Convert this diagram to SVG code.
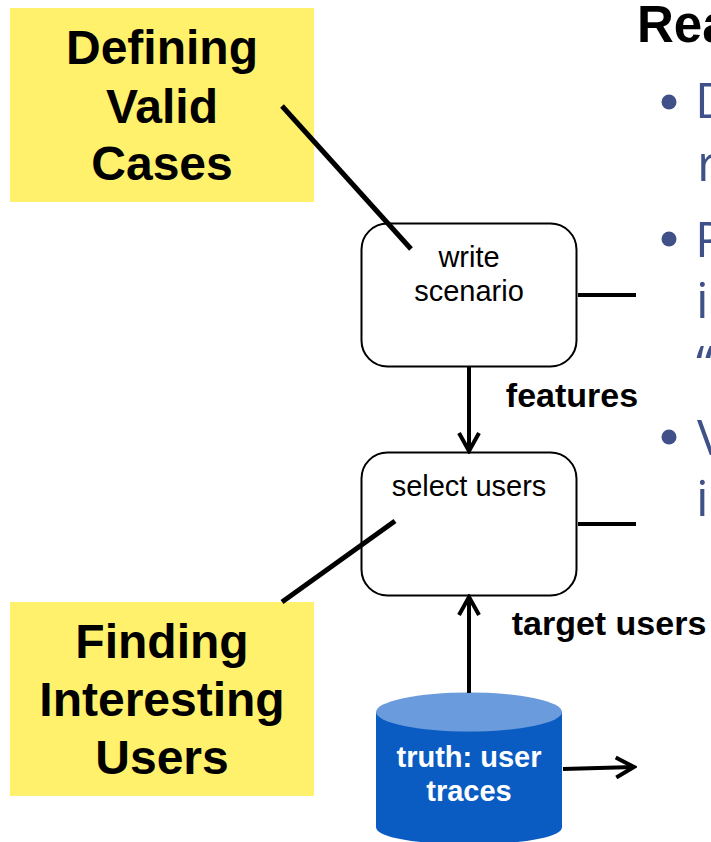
<svg xmlns="http://www.w3.org/2000/svg" width="711" height="842" viewBox="0 0 711 842">
<defs>
<marker id="arrow" viewBox="0 0 24 24" refX="21" refY="12" markerWidth="24" markerHeight="24" markerUnits="userSpaceOnUse" orient="auto"><path d="M3 2 L21 12 L3 22" fill="none" stroke="#000" stroke-width="4"/></marker>
</defs>
<style>
text{font-family:"Liberation Sans",Arial,sans-serif;text-anchor:middle}
.note{fill:#fff16b}
.nt{font-size:48px;font-weight:bold;fill:#000}
.box{fill:#fff;stroke:#000;stroke-width:2}
.bt{font-size:29px;fill:#000}
.lbl{font-size:34px;font-weight:bold;fill:#000}
.side{font-family:"Open Sans","Noto Sans",sans-serif;font-size:50px;fill:#3f5188;text-anchor:start}
.dot{fill:#3f5188}
.con{fill:none;stroke:#000;stroke-width:4}
.diag{fill:none;stroke:#000;stroke-width:5}
</style>
<g id="panel-text">
<text x="637" y="42" style="font-size:51px;font-weight:bold;text-anchor:start">Rea</text>
<circle class="dot" cx="669" cy="102" r="7.500"/>
<text class="side" x="695" y="118">D</text>
<text class="side" x="697" y="181">r</text>
<circle class="dot" cx="669" cy="239" r="7.500"/>
<text class="side" x="695" y="257">P</text>
<text class="side" x="696" y="318">i</text>
<text class="side" x="696" y="381">“</text>
<circle class="dot" cx="669" cy="437" r="7.500"/>
<text class="side" x="697" y="455">V</text>
<text class="side" x="696" y="516">i</text>
</g>
<g id="note-valid">
<rect class="note" x="10" y="8" width="304" height="194"/>
<text class="nt" x="162" y="64">Defining</text>
<text class="nt" x="162" y="122.500">Valid</text>
<text class="nt" x="162" y="180">Cases</text>
</g>
<g id="note-users">
<rect class="note" x="10" y="602" width="304" height="194"/>
<text class="nt" x="162" y="658">Finding</text>
<text class="nt" x="162" y="716">Interesting</text>
<text class="nt" x="162" y="774">Users</text>
</g>
<g id="node-scenario">
<rect class="box" x="361.500" y="223.500" width="215" height="143" rx="26"/>
<text class="bt" x="469" y="267">write</text>
<text class="bt" x="469" y="301">scenario</text>
</g>
<g id="node-select">
<rect class="box" x="361.500" y="452.500" width="215" height="143" rx="26"/>
<text class="bt" x="469" y="496">select users</text>
</g>
<g id="label-features"><text class="lbl" x="572" y="407">features</text></g>
<g id="label-target"><text class="lbl" x="609" y="635">target users</text></g>
<g id="node-truth">
<path d="M376 712 V827 C376 850 562 850 562 827 V712 Z" fill="#0b5cc2"/>
<ellipse cx="469" cy="712" rx="93" ry="19.500" fill="#6a9bdc"/>
<text x="469" y="767" style="font-size:29px;font-weight:bold;fill:#fff">truth: user</text>
<text x="469" y="801" style="font-size:29px;font-weight:bold;fill:#fff">traces</text>
</g>
<g id="connectors">
<path class="diag" d="M282 106 L411 249"/>
<path class="diag" d="M282 602 L395 521"/>
<path class="con" d="M578 295 H636"/>
<path class="con" d="M578 524 H636"/>
<path class="con" marker-end="url(#arrow)" d="M469 367 V451"/>
<path class="con" marker-end="url(#arrow)" d="M469 693 V597"/>
<path class="con" marker-end="url(#arrow)" d="M563 769 L634 767"/>
</g>
</svg>
